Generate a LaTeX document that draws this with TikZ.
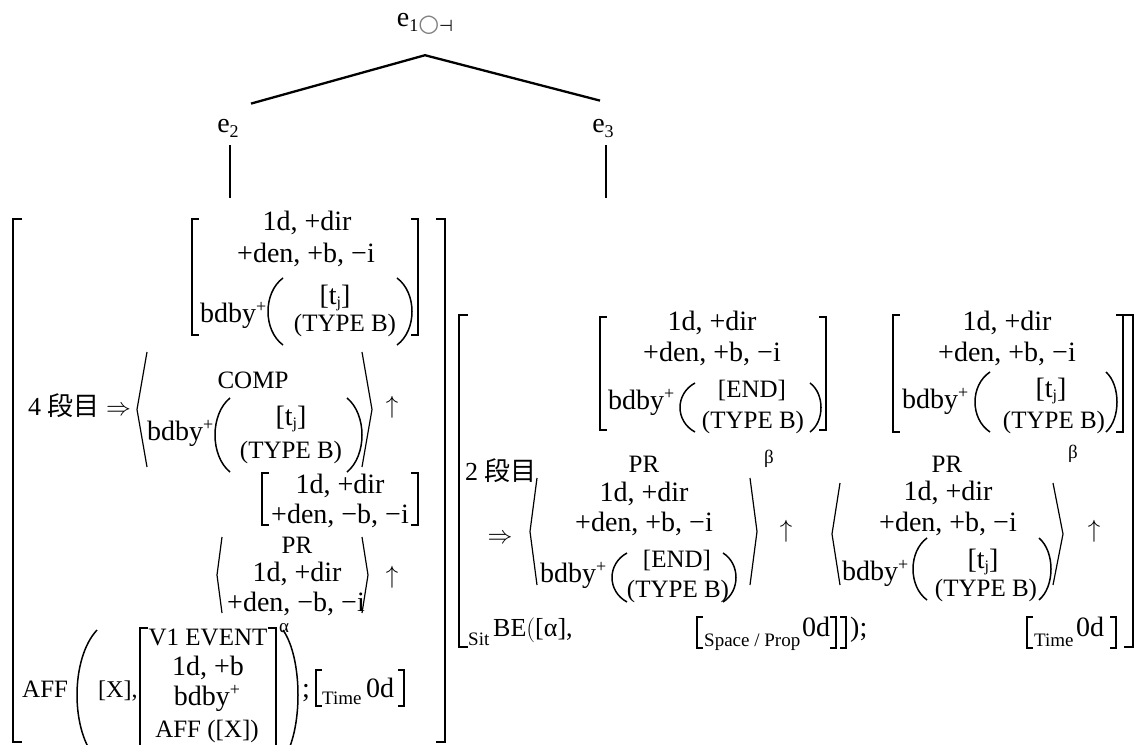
\documentclass[tikz,border=0pt]{standalone}
\usepackage{fontspec}
\setmainfont{Liberation Serif}
\newfontfamily\jp{Noto Sans CJK JP}
\newfontfamily\sym{DejaVu Sans}
\usetikzlibrary{positioning}
\newcommand\dn[1]{\raisebox{-5pt}{\fontsize{18}{20}\selectfont #1}}
\newcommand\up[1]{\raisebox{10pt}{\fontsize{18}{20}\selectfont #1}}
\newcommand\tj{[t\raisebox{-3pt}{\fontsize{16}{16}\selectfont j}]}
\tikzset{
  txt/.style={anchor=base, inner sep=0pt, font=\fontsize{28}{32}\selectfont},
  lft/.style={txt, anchor=base west},
  caps/.style={font=\fontsize{25}{30}\selectfont},
  sml/.style={anchor=base west, inner sep=0pt, font=\fontsize{19}{20}\selectfont},
  brk/.style={line width=1.8pt},
  ang/.style={line width=1.2pt},
  par/.style={line width=1.5pt},
  tree/.style={line width=2.3pt}
}

\begin{document}
\begin{tikzpicture}[x=1pt,y=-1pt]
  \def\lsq#1#2#3#4{\draw[brk] (#1+#4,#2) -- (#1,#2) -- (#1,#3) -- (#1+#4,#3);}
  \def\rsq#1#2#3#4{\draw[brk] (#1-#4,#2) -- (#1,#2) -- (#1,#3) -- (#1-#4,#3);}
  \def\angb#1#2#3#4{\draw[ang] (#1,#3) -- (#2,{(#3+#4)/2}) -- (#1,#4);}
  \def\parb#1#2#3#4{\draw[par] (#1,#3) .. controls ({#1+(#2-#1)*4/3},{#3+(#4-#3)*0.22}) and ({#1+(#2-#1)*4/3},{#4-(#4-#3)*0.22}) .. (#1,#4);}
  \useasboundingbox (0,0) rectangle (1137,744);
  \clip (0,0) rectangle (1137,744);

  % tree
  \node[txt] (e1) at (425,27) {e\dn{1}\raisebox{-5pt}{\sym\fontsize{24}{26}\selectfont\textcolor{gray}{○}\fontsize{16}{18}\selectfont⊣}};
  \node[txt] (e2) at (228,132) {e\dn{2}};
  \node[txt] (e3) at (603,132) {e\dn{3}};
  \coordinate (lroot) at (230,198);
  \coordinate (rroot) at (606,198);
  \draw[tree] ([shift={(23pt,15pt)}]e2.north) -- ([yshift=-20pt]e1.south) -- ([shift={(-3pt,18pt)}]e3.north);
  \draw[tree] ([shift={(2pt,-8pt)}]e2.south) -- (lroot);
  \draw[tree] ([shift={(3pt,-8pt)}]e3.south) -- (rroot);

  % left block
  \lsq{13}{219}{742}{9} \rsq{445}{219}{742}{9}
  \lsq{192}{219}{335}{7} \rsq{418}{219}{335}{7}
  \node[txt] (la1) at (307,230) {1d, +dir};
  \node[txt] (la2) at (306,262) {+den, +b, −i};
  \node[lft] (la3) at (200,322) {bdby\up{+}};
  \parb{283}{268}{278}{345} \parb{397}{412}{278}{345}
  \node[txt] (la4) at (335,304) {\tj};
  \node[txt, caps] (la5) at (345,331) {(TYPE B)};

  \node[lft, font=\fontsize{26}{30}\selectfont] (lb0) at (28,415) {4 {\jp 段目} \(\Rightarrow\)};
  \angb{147}{137}{352}{467} \angb{362}{372}{352}{467}
  \node[txt] (lbup) at (392,413) {\(\uparrow\)};
  \node[txt, caps] (lb1) at (253,388) {COMP};
  \node[lft] (lb2) at (147,440) {bdby\up{+}};
  \parb{230}{215}{398}{472} \parb{347}{362}{398}{472}
  \node[txt] (lb3) at (291,425) {\tj};
  \node[txt, caps] (lb4) at (291,458) {(TYPE B)};

  \lsq{262}{473}{525}{7} \rsq{418}{473}{525}{7}
  \node[txt] (lc1) at (340,493) {1d, +dir};
  \node[txt] (lc2) at (340,523) {+den, −b, −i};
  \angb{222}{217}{537}{613} \angb{362}{368}{537}{613}
  \node[txt] (lcup) at (392,583) {\(\uparrow\)};
  \node[txt, caps] (lc3) at (297,553) {PR};
  \node[txt] (lc4) at (297,581) {1d, +dir};
  \node[txt] (lc5) at (296,611) {+den, −b, −i};

  \node[lft, caps] (ld0) at (22,697) {AFF};
  \parb{97}{77}{630}{760} \parb{283}{298}{630}{760}
  \node[lft, font=\fontsize{24}{30}\selectfont] (ld1) at (98,697) {[X],};
  \lsq{140}{628}{760}{8} \rsq{276}{628}{760}{8}
  \node[sml] (lalpha) at (279,632) {α};
  \node[txt, caps] (ld2) at (208,645) {V1 EVENT};
  \node[txt] (ld3) at (208,675) {1d, +b};
  \node[txt] (ld4) at (207,705) {bdby\up{+}};
  \node[txt, caps] (ld5) at (207,737) {AFF ([X])};
  \node[lft] (ld6) at (302,697) {;};
  \lsq{316}{670}{706}{6}
  \node[sml] (ld7) at (322,704) {Time};
  \node[lft] (ld8) at (366,697) {0d};
  \rsq{404}{670}{706}{6}

  % right block
  \lsq{459}{315}{647}{9} \rsq{1133}{315}{647}{9}
  \lsq{600}{317}{430}{7} \rsq{826}{317}{430}{7}
  \node[txt] (ra1) at (712,330) {1d, +dir};
  \node[txt] (ra2) at (712,361) {+den, +b, −i};
  \node[lft] (ra3) at (608,409) {bdby\up{+}};
  \parb{695}{680}{383}{432} \parb{810}{821}{383}{432}
  \node[txt, caps] (ra4) at (752,397) {[END]};
  \node[txt, caps] (ra5) at (753,428) {(TYPE B)};

  \lsq{893}{315}{432}{7} \rsq{1123}{315}{432}{7}
  \node[txt] (rb1) at (1007,330) {1d, +dir};
  \node[txt] (rb2) at (1007,361) {+den, +b, −i};
  \node[lft] (rb3) at (902,408) {bdby\up{+}};
  \parb{990}{975}{372}{432} \parb{1106}{1117}{372}{432}
  \node[txt] (rb4) at (1051,397) {\tj};
  \node[txt, caps] (rb5) at (1054,428) {(TYPE B)};

  \node[lft, font=\fontsize{26}{30}\selectfont] (rc0) at (465,480) {2 {\jp 段目}};
  \node[txt] (rcarr) at (500,543) {\(\Rightarrow\)};
  \angb{537}{530}{478}{585} \angb{750}{757}{478}{585}
  \node[sml] (rcbeta) at (764,463) {β};
  \node[txt] (rcup) at (786,537) {\(\uparrow\)};
  \node[txt, caps] (rc1) at (644,472) {PR};
  \node[txt] (rc2) at (644,501) {1d, +dir};
  \node[txt] (rc3) at (644,531) {+den, +b, −i};
  \node[lft] (rc4) at (540,582) {bdby\up{+}};
  \parb{627}{612}{553}{602} \parb{723}{736}{553}{602}
  \node[txt, caps] (rc5) at (677,567) {[END]};
  \node[txt, caps] (rc6) at (678,597) {(TYPE B)};

  \angb{840}{832}{483}{585} \angb{1053}{1063}{483}{585}
  \node[sml] (rdbeta) at (1068,458) {β};
  \node[txt] (rdup) at (1094,537) {\(\uparrow\)};
  \node[txt, caps] (rd1) at (947,472) {PR};
  \node[txt] (rd2) at (948,500) {1d, +dir};
  \node[txt] (rd3) at (948,531) {+den, +b, −i};
  \node[lft] (rd4) at (842,580) {bdby\up{+}};
  \parb{927}{913}{538}{600} \parb{1039}{1051}{538}{600}
  \node[txt] (rd5) at (983,568) {\tj};
  \node[txt, caps] (rd6) at (986,596) {(TYPE B)};

  \node[sml] (re0) at (468,645) {Sit};
  \node[lft, font=\fontsize{26}{30}\selectfont] (re1) at (493,636) {BE\(\big(\)[α],};
  \lsq{697}{617}{648}{6}
  \node[sml] (re2) at (704,646) {Space / Prop};
  \node[lft] (re3) at (802,636) {0d};
  \rsq{836}{617}{648}{6} \rsq{846}{617}{648}{6}
  \node[lft] (re4) at (850,636) {);};
  \lsq{1027}{617}{648}{6}
  \node[sml] (re5) at (1034,646) {Time};
  \node[lft] (re6) at (1076,636) {0d};
  \rsq{1116}{617}{648}{6}
\end{tikzpicture}
\end{document}
